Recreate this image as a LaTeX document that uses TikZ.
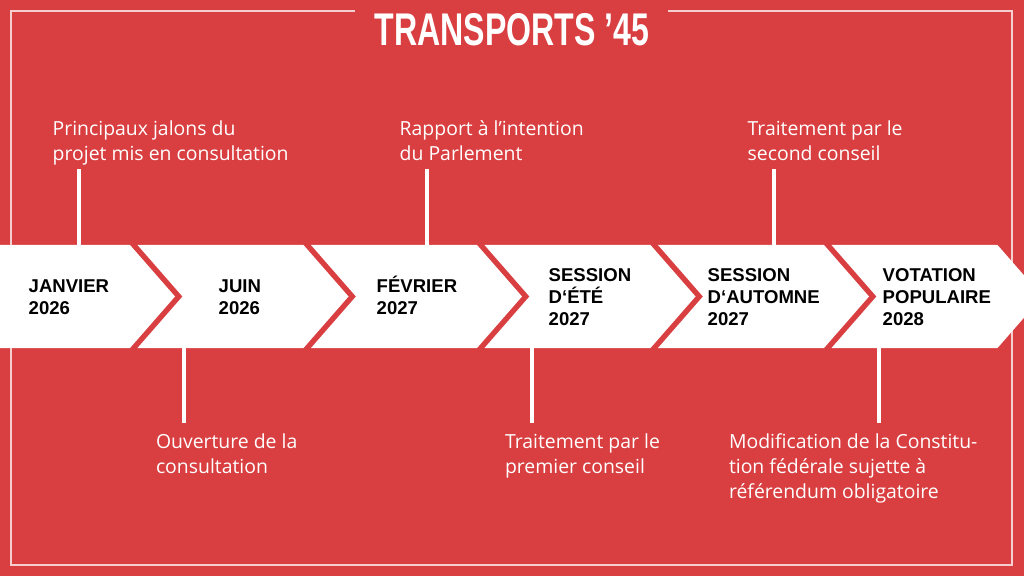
\documentclass[tikz,border=0pt]{standalone}
\usepackage{graphicx}
\usepackage{fontspec}
\setmainfont{Open Sans}
\newfontfamily\stagefont{Liberation Sans}
\usepackage{tikz}

\definecolor{bgred}{RGB}{217,62,64}

\begin{document}
\begin{tikzpicture}[x=0.025cm,y=-0.025cm,line width=1pt,
  stage/.style={anchor=west,align=left,inner sep=0pt,text=black,font=\stagefont\bfseries\fontsize{13.2}{15.6}\selectfont},
  note/.style={align=left,inner sep=0pt,text=white,font=\fontsize{13.8}{17.9}\selectfont},
  upper/.style={note,anchor=south west},
  lower/.style={note,anchor=north west,outer xsep=0pt,outer ysep=5.3pt},
  tick/.style={draw=white,line width=2.8pt},
  frame/.style={draw=white,draw opacity=.75,line width=1pt},
  headline/.style={anchor=base,inner sep=0pt,text=white,font=\stagefont\bfseries\fontsize{32.6}{36}\selectfont}]
\useasboundingbox (0,0) rectangle (1024,576);
\fill[bgred] (0,0) rectangle (1024,576);
\draw[frame] (355,11)--(11,11)--(11,565)--(1012,565)--(1012,11)--(668,11);
\node[headline] (title) at (512,46) {\scalebox{0.7}[1]{TRANSPORTS ’45}};
\begin{scope}
\clip (0,0) rectangle (1024,576);
\fill[white] (0,245)--(130,245)--(175,296.5)--(130,348)--(0,348)--cycle;
\foreach \i in {1,...,5}
  \fill[white] ({173.5*\i-36},245)--({173.5*\i+130},245)--({173.5*\i+175},296.5)--({173.5*\i+130},348)--({173.5*\i-36},348)--({173.5*\i+9},296.5)--cycle;
\end{scope}
\node[stage] (jan) at (28,297) {JANVIER\\2026};
\node[stage] (jun) at (218,297) {JUIN\\2026};
\node[stage] (feb) at (376,295.5) {FÉVRIER\\2027};
\node[stage] (ete) at (548,297) {SESSION\\D‘ÉTÉ\\2027};
\node[stage] (aut) at (707,297) {SESSION\\D‘AUTOMNE\\2027};
\node[stage] (vot) at (882,297) {VOTATION\\POPULAIRE\\2028};
\coordinate (t1) at (79,245);
\coordinate (t2) at (427,245);
\coordinate (t3) at (774,245);
\coordinate (b1) at (184,348);
\coordinate (b2) at (532,348);
\coordinate (b3) at (879,348);
\node[upper] (jalons) at (52,169) {Principaux jalons du\\projet mis en consultation\strut};
\node[upper] (rapport) at (399,169) {Rapport à l’intention\\du Parlement\strut};
\node[upper] (second) at (747,169) {Traitement par le\\second conseil\strut};
\node[lower] (ouverture) at (156,423) {\strut Ouverture de la\\consultation};
\node[lower] (premier) at (505,423) {\strut Traitement par le\\premier conseil};
\node[lower] (modif) at (729,423) {\strut Modification de la Constitu-\\tion fédérale sujette à\\référendum obligatoire};
\draw[tick] (t1) -- (t1 |- jalons.south);
\draw[tick] (t2) -- (t2 |- rapport.south);
\draw[tick] (t3) -- (t3 |- second.south);
\draw[tick] (b1) -- (b1 |- ouverture.north);
\draw[tick] (b2) -- (b2 |- premier.north);
\draw[tick] (b3) -- (b3 |- modif.north);
\end{tikzpicture}
\end{document}
